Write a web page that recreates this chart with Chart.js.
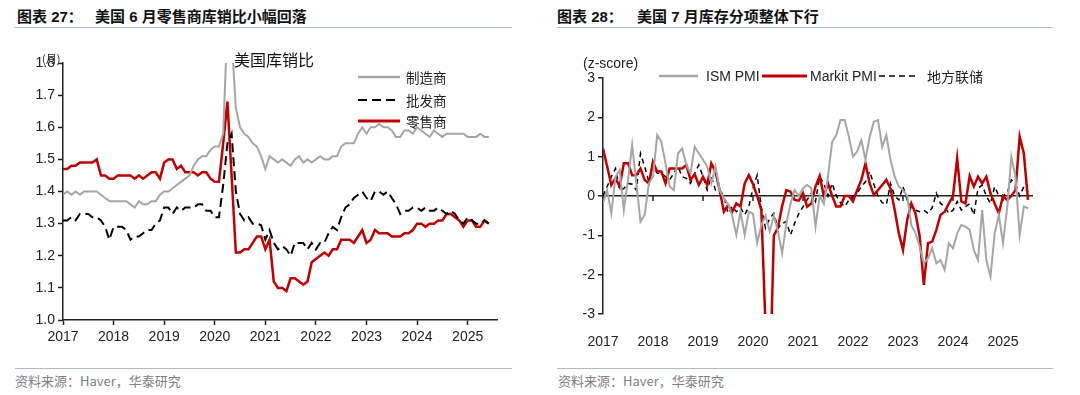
<!DOCTYPE html>
<html>
<head>
<meta charset="utf-8">
<script src="https://cdn.jsdelivr.net/npm/chart.js@4.4.1/dist/chart.umd.min.js"></script>
<style>
  body { margin: 0; background: #fff; width: 1080px; height: 395px; position: relative; overflow: hidden;
         font-family: "Liberation Sans", "Noto Sans CJK SC", sans-serif; }
  .abs { position: absolute; white-space: nowrap; z-index: 2; }
  .title { font-size: 15px; font-weight: bold; color: #111; line-height: 18px; top: 8px; }
  .rule { position: absolute; height: 0; border-top: 1.5px solid #a9bcd2; }
  .src { font-size: 13px; color: #808080; line-height: 16px; top: 373px; }
  .lbl { font-size: 14px; color: #222; line-height: 16px; }
  .cjk { font-family: "Noto Sans CJK SC", sans-serif; }
  canvas { position: absolute; top: 40px; }
  svg { position: absolute; z-index: 2; }
</style>
</head>
<body>
<div class="abs title" style="left:17px">图表 27：</div>
<div class="abs title" style="left:95px">美国 6 月零售商库销比小幅回落</div>
<div class="rule" style="left:15px;top:27px;width:497px"></div>
<div class="abs title" style="left:557px">图表 28：</div>
<div class="abs title" style="left:637px">美国 7 月库存分项整体下行</div>
<div class="rule" style="left:557px;top:27px;width:496px"></div>

<canvas id="invChart" width="540" height="320" style="left:0"></canvas>
<canvas id="pmiChart" width="540" height="320" style="left:540px"></canvas>

<!-- left chart labels and legend -->
<div class="abs cjk" style="left:42px;top:50px;font-size:11px;color:#222">(月)</div>
<div class="abs cjk" style="left:234px;top:47px;font-size:16px;color:#111">美国库销比</div>
<svg style="left:356px;top:72px" width="46" height="56">
  <line x1="2" y1="5" x2="44" y2="5" stroke="#a6a6a6" stroke-width="2.5"/>
  <line x1="2" y1="28" x2="42" y2="28" stroke="#000" stroke-width="2" stroke-dasharray="9,5"/>
  <line x1="2" y1="49" x2="44" y2="49" stroke="#c00000" stroke-width="3"/>
</svg>
<div class="abs cjk lbl" style="left:406px;top:69px;font-size:13.5px">制造商</div>
<div class="abs cjk lbl" style="left:406px;top:92px;font-size:13.5px">批发商</div>
<div class="abs cjk lbl" style="left:406px;top:113px;font-size:13.5px">零售商</div>

<!-- right chart labels and legend -->
<div class="abs lbl" style="left:583px;top:55px">(z-score)</div>
<svg style="left:657px;top:71px" width="360" height="10">
  <line x1="2" y1="5" x2="41" y2="5" stroke="#a6a6a6" stroke-width="2.5"/>
  <line x1="105" y1="5" x2="150" y2="5" stroke="#c00000" stroke-width="3"/>
  <line x1="222" y1="5" x2="262" y2="5" stroke="#000" stroke-width="1.5" stroke-dasharray="6,4"/>
</svg>
<div class="abs lbl" style="left:706px;top:68px">ISM PMI</div>
<div class="abs lbl" style="left:810px;top:68px">Markit PMI</div>
<div class="abs cjk lbl" style="left:927px;top:68px">地方联储</div>

<div class="rule" style="left:15px;top:368px;width:497px"></div>
<div class="abs src cjk" style="left:15px">资料来源：Haver，华泰研究</div>
<div class="rule" style="left:557px;top:368px;width:496px"></div>
<div class="abs src cjk" style="left:558px">资料来源：Haver，华泰研究</div>

<script>
// monthly series, first point = Jan 2017
const startYear = 2017;
const yearTicks = [2017, 2018, 2019, 2020, 2021, 2022, 2023, 2024, 2025];

// 美国库销比 (Jan 2017 - Jun 2025)
const manufacturers = [
  1.39, 1.40, 1.39, 1.40, 1.39, 1.40, 1.40, 1.40, 1.40, 1.39, 1.38, 1.37,
  1.37, 1.37, 1.37, 1.37, 1.36, 1.35, 1.37, 1.36, 1.36, 1.37, 1.37, 1.39,
  1.40, 1.40, 1.41, 1.42, 1.43, 1.44, 1.45, 1.48, 1.50, 1.51, 1.51, 1.53,
  1.54, 1.54, 1.58, 1.92, 1.88, 1.66, 1.60, 1.58, 1.57, 1.55, 1.54, 1.51,
  1.47, 1.51, 1.50, 1.49, 1.50, 1.49, 1.48, 1.50, 1.51, 1.49, 1.50, 1.49,
  1.50, 1.51, 1.50, 1.50, 1.51, 1.51, 1.54, 1.55, 1.55, 1.55, 1.58, 1.60,
  1.58, 1.60, 1.60, 1.61, 1.60, 1.60, 1.59, 1.57, 1.57, 1.59, 1.59, 1.58,
  1.60, 1.59, 1.58, 1.57, 1.59, 1.58, 1.57, 1.58, 1.58, 1.58, 1.58, 1.58,
  1.57, 1.57, 1.57, 1.58, 1.57, 1.57
];
const wholesalers = [
  1.31, 1.31, 1.32, 1.31, 1.33, 1.33, 1.33, 1.32, 1.32, 1.31, 1.29, 1.25,
  1.29, 1.29, 1.29, 1.28, 1.25, 1.26, 1.26, 1.27, 1.28, 1.28, 1.30, 1.31,
  1.35, 1.35, 1.33, 1.35, 1.34, 1.35, 1.35, 1.35, 1.36, 1.36, 1.34, 1.34,
  1.32, 1.32, 1.42, 1.55, 1.58, 1.40, 1.33, 1.31, 1.32, 1.30, 1.30, 1.295,
  1.25, 1.28, 1.24, 1.22, 1.23, 1.22, 1.20, 1.24, 1.24, 1.24, 1.22, 1.24,
  1.22, 1.24, 1.24, 1.27, 1.29, 1.28, 1.32, 1.35, 1.36, 1.38, 1.39, 1.40,
  1.38, 1.37, 1.40, 1.40, 1.39, 1.40, 1.38, 1.36, 1.33, 1.34, 1.34, 1.35,
  1.35, 1.34, 1.35, 1.34, 1.34, 1.35, 1.34, 1.33, 1.34, 1.33, 1.31, 1.30,
  1.32, 1.31, 1.30, 1.30, 1.31, 1.30
];
const retailers = [
  1.47, 1.47, 1.48, 1.48, 1.49, 1.49, 1.49, 1.49, 1.50, 1.45, 1.45, 1.44,
  1.44, 1.45, 1.45, 1.45, 1.45, 1.44, 1.45, 1.44, 1.45, 1.46, 1.46, 1.44,
  1.49, 1.50, 1.50, 1.47, 1.48, 1.46, 1.46, 1.46, 1.45, 1.46, 1.46, 1.44,
  1.43, 1.43, 1.55, 1.68, 1.45, 1.21, 1.21, 1.22, 1.22, 1.24, 1.26, 1.26,
  1.22, 1.25, 1.12, 1.10, 1.10, 1.09, 1.13, 1.13, 1.12, 1.11, 1.12, 1.18,
  1.19, 1.20, 1.21, 1.20, 1.22, 1.22, 1.25, 1.25, 1.25, 1.24, 1.26, 1.28,
  1.24, 1.25, 1.28, 1.27, 1.27, 1.27, 1.26, 1.26, 1.26, 1.27, 1.27, 1.28,
  1.30, 1.30, 1.29, 1.30, 1.30, 1.31, 1.31, 1.33, 1.33, 1.32, 1.31, 1.29,
  1.31, 1.31, 1.29, 1.29, 1.31, 1.30
];

// 库存分项 z-score (Jan 2017 - Jul 2025)
const ismPmi = [
  -0.19, 0.15, -0.44, 0.49, 0.66, -0.36, 0.41, 1.30, 0.32, -0.65, -0.48, 0.32,
  0.49, 1.55, 1.38, 0.83, 0.24, 0.15, 1.08, 1.21, 0.79, 0.58, 1.25, 1.08,
  0.92, 0.75, 0.32, 0.75, 0.15, -0.06, -0.20, -0.50, -0.99, -0.40, -0.99, -0.40,
  -0.45, -1.20, -0.74, -0.50, -0.90, -0.50, -0.90, -1.46, -0.70, -0.20, 0.15, 0.00,
  0.20, 0.28, 0.20, -0.78, 0.00, -0.20, 0.50, 1.38, 1.55, 1.93, 1.93, 1.51,
  1.00, 1.13, 1.42, 0.92, 1.51, 1.89, 1.93, 1.25, 1.55, 0.92, 0.49, 0.24,
  0.15, 0.00, -0.74, -0.95, -1.29, -1.71, -1.58, -1.33, -1.71, -1.63, -1.88, -1.20,
  -1.33, -0.95, -0.74, -0.78, -0.86, -1.37, -1.63, -0.36, -1.63, -2.05, -0.95, -0.48,
  -1.20, -0.31, 1.00, 0.49, -0.99, -0.27, -0.31
];
const markitPmi = [
  1.21, 0.75, 0.28, 0.45, 0.24, 0.83, 0.83, 0.53, 0.53, 0.70, 0.41, 0.32,
  0.87, 0.62, 0.62, 0.32, 0.70, 0.70, 0.70, 0.70, 0.79, 0.41, 0.55, 0.28,
  0.49, 0.28, 0.83, 0.62, 0.15, -0.40, -0.23, -0.40, -0.19, -0.27, 0.32, 0.53,
  0.30, 0.00, -0.35, -3.30, -5.00, -1.00, -0.80, -0.25, 0.15, 0.11, -0.10, -0.12,
  0.07, -0.27, -0.19, 0.24, 0.51, 0.00, 0.32, 0.00, -0.27, -0.27, 0.00, 0.00,
  -0.14, 0.15, 0.41, 0.83, 0.32, 0.03, 0.15, 0.28, 0.41, 0.19, -0.35, -0.95,
  -1.37, -0.61, -0.19, -0.44, -1.03, -2.26, -1.20, -1.16, -0.86, -0.48, -0.40, -0.19,
  0.00, 0.96, -0.14, -0.19, 0.51, 0.24, 0.49, 0.32, 0.49, 0.07, -0.19, -0.44,
  0.00, -0.10, 0.00, 0.15, 1.51, 1.08, -0.10
];
const regionalFed = [
  0.00, 0.24, 0.49, 0.70, 0.15, 0.19, 0.32, 0.30, 0.15, 1.08, 0.75, 0.36,
  0.75, 0.58, 0.58, 0.49, 0.41, 0.58, 0.75, 0.49, 0.45, 0.32, 0.58, 0.79,
  0.49, 0.15, 0.49, 0.15, 0.15, 0.00, -0.44, -0.27, -0.40, -0.30, -0.48, -0.27,
  0.20, 0.53, -0.30, -0.82, -0.57, -0.44, -0.82, -0.70, -0.65, -0.99, -0.69, -0.45,
  -0.27, -0.10, 0.07, -0.14, 0.49, 0.32, 0.00, 0.32, 0.00, -0.17, -0.27, -0.10,
  0.00, 0.07, 0.24, 0.36, 0.62, 0.30, 0.00, -0.17, -0.22, 0.32, 0.00, -0.10,
  0.24, -0.10, -0.27, -0.36, -0.40, -0.36, -0.44, -0.30, 0.07, -0.19, -0.27, -0.44,
  -0.36, -0.14, -0.36, -0.27, -0.20, -0.48, 0.19, 0.28, 0.00, -0.19, 0.24, 0.00,
  0.00, 0.07, 0.41, 0.32, 0.00, 0.24, 0.10
];

const toPoints = (arr) => arr.map((v, i) => ({ x: startYear + i / 12, y: v }));
const tickFont = { family: "'Liberation Sans', Arial, sans-serif", size: 14 };
const axisColor = "#222";

const line = (data, color, width, dash) => ({
  data: toPoints(data),
  borderColor: color,
  borderWidth: width,
  borderDash: dash || [],
  pointRadius: 0,
  tension: 0,
  fill: false,
});

const baseOptions = {
  responsive: false,
  animation: false,
  plugins: { legend: { display: false }, tooltip: { enabled: false } },
};

// 图表 27
new Chart(document.getElementById("invChart").getContext("2d"), {
  type: "line",
  data: {
    datasets: [
      line(manufacturers, "#a6a6a6", 2),
      line(wholesalers, "#000", 2, [9, 5]),
      line(retailers, "#c00000", 2.5),
    ],
  },
  options: {
    ...baseOptions,
    layout: { padding: { top: 23, right: 43, left: 0, bottom: 0 } },
    scales: {
      x: {
        type: "linear",
        min: 2017,
        max: 2025.58,
        afterFit: (s) => { s.height = 40; },
        afterBuildTicks: (s) => { s.ticks = yearTicks.map((v) => ({ value: v })); },
        ticks: { font: tickFont, color: axisColor, padding: 4, maxRotation: 0, autoSkip: false,
                 callback: (v) => String(v) },
        grid: { drawOnChartArea: false, tickLength: 5, tickColor: axisColor, tickWidth: 1.5 },
        border: { color: axisColor, width: 1.5 },
      },
      y: {
        min: 1.0,
        max: 1.8,
        afterFit: (s) => { s.width = 63; },
        ticks: { stepSize: 0.1, font: tickFont, color: axisColor, padding: 3,
                 callback: (v) => v.toFixed(1) },
        grid: { drawOnChartArea: false, tickLength: 5, tickColor: axisColor, tickWidth: 1.5 },
        border: { color: axisColor, width: 1.5 },
      },
    },
  },
});

// small year ticks hanging from the zero line
const zeroLineTicks = {
  id: "zeroLineTicks",
  beforeDatasetsDraw(chart) {
    const { ctx, scales: { x, y } } = chart;
    const y0 = y.getPixelForValue(0);
    ctx.save();
    ctx.strokeStyle = axisColor;
    ctx.lineWidth = 1.5;
    yearTicks.forEach((yr) => {
      const px = x.getPixelForValue(yr);
      ctx.beginPath();
      ctx.moveTo(px, y0);
      ctx.lineTo(px, y0 + 5);
      ctx.stroke();
    });
    ctx.restore();
  },
};

// 图表 28
new Chart(document.getElementById("pmiChart").getContext("2d"), {
  type: "line",
  data: {
    datasets: [
      line(ismPmi, "#a6a6a6", 2),
      line(markitPmi, "#c00000", 2.5),
      line(regionalFed, "#000", 1.5, [5, 4]),
    ],
  },
  options: {
    ...baseOptions,
    layout: { padding: { top: 38, right: 47, left: 0, bottom: 0 } },
    scales: {
      x: {
        type: "linear",
        min: 2017,
        max: 2025.6,
        afterFit: (s) => { s.height = 46; },
        afterBuildTicks: (s) => { s.ticks = yearTicks.map((v) => ({ value: v })); },
        ticks: { font: tickFont, color: axisColor, padding: 12, maxRotation: 0, autoSkip: false,
                 callback: (v) => String(v) },
        grid: { display: false },
        border: { display: false },
      },
      y: {
        min: -3,
        max: 3,
        afterFit: (s) => { s.width = 63; },
        ticks: { stepSize: 1, font: tickFont, color: axisColor, padding: 3 },
        grid: {
          color: (c) => (c.tick && c.tick.value === 0 ? axisColor : "rgba(0,0,0,0)"),
          lineWidth: 1.5,
          tickLength: 5,
          tickColor: axisColor,
          tickWidth: 1.5,
        },
        border: { color: axisColor, width: 1.5 },
      },
    },
  },
  plugins: [zeroLineTicks],
});
</script>
</body>
</html>
